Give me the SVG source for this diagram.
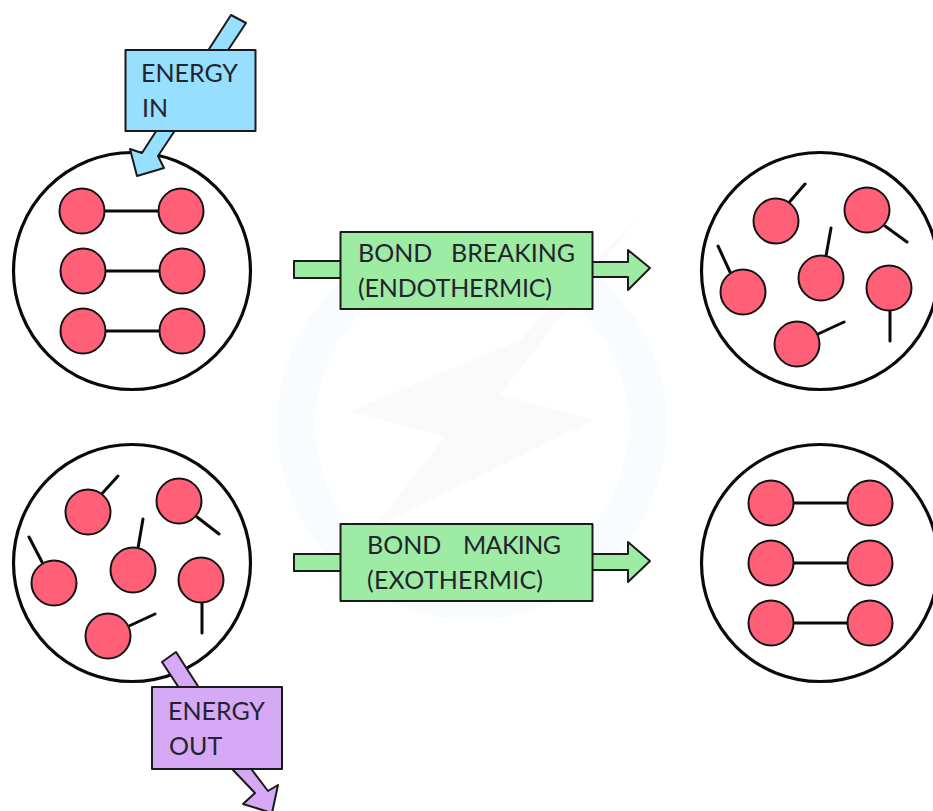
<svg xmlns="http://www.w3.org/2000/svg" width="933" height="811" viewBox="0 0 933 811">
<style>
.o{fill:#fff;stroke:#0a0a0a;stroke-width:3.2}
.a{fill:#ff6078;stroke:#151515;stroke-width:2}
.b{stroke:#0a0a0a;stroke-width:3;fill:none;stroke-linecap:round}
.k{stroke:#1a1a1a;stroke-width:2;stroke-linejoin:round}
.blue{fill:#97dffe}.green{fill:#9eeca4}.purple{fill:#d5a9f6}
text{font-family:"Lato","Noto Sans",sans-serif;font-size:25px;fill:#24242f}
</style>
<defs>
<g id="pair"><line class="b" x1="20" y1="0" x2="80" y2="0"/><circle class="a" cx="0" cy="0" r="22.5"/><circle class="a" cx="99" cy="0" r="22.5"/></g>
</defs>
<g id="watermark">
<circle cx="472" cy="425" r="176" fill="none" stroke="#f8fcfe" stroke-width="38"/>
<path d="M350 411 L520 340 L640 215 L500 395 L595 420 L370 530 L300 620 L445 437 Z" fill="#fafafa"/>
</g>
<g id="circle-top-left">
<circle class="o" cx="132" cy="271" r="118.5"/>
<use href="#pair" x="82" y="211"/><use href="#pair" x="83" y="271"/><use href="#pair" x="83" y="331"/>
</g>
<g id="circle-top-right">
<circle class="o" cx="820" cy="271" r="118.5"/>
<path class="b" d="M786 206L805 184M885 226L907 242M826 256L831 228M890 310L890 341M818 334L844 322M730 272L718 246"/>
<circle class="a" cx="776" cy="221" r="22.5"/><circle class="a" cx="867" cy="210" r="22.5"/><circle class="a" cx="821" cy="278" r="22.5"/><circle class="a" cx="889" cy="288" r="22.5"/><circle class="a" cx="797" cy="344" r="22.5"/><circle class="a" cx="743" cy="292" r="22.5"/>
</g>
<g id="circle-bottom-left">
<circle class="o" cx="132" cy="563" r="118.5"/>
<path class="b" d="M98 498L118 476M197 517L219 534M138 548L143 519M202 602L202 633M129 626L155 614M42 562L29 537"/>
<circle class="a" cx="88" cy="512" r="22.5"/><circle class="a" cx="179" cy="501" r="22.5"/><circle class="a" cx="133" cy="570" r="22.5"/><circle class="a" cx="201" cy="580" r="22.5"/><circle class="a" cx="108" cy="636" r="22.5"/><circle class="a" cx="54" cy="583" r="22.5"/>
</g>
<g id="circle-bottom-right">
<circle class="o" cx="820" cy="563" r="118.5"/>
<use href="#pair" x="771" y="503"/><use href="#pair" x="771" y="563"/><use href="#pair" x="771" y="623"/>
</g>
<g id="connectors">
<polygon class="k blue" points="231,15 246,23 158,156 164,168 137,176 130,149 142,153"/>
<polygon class="k purple" points="162,662 176,652 252,770 268,791 278,785 272,813 243,804 255,793 233,770"/>
<polygon class="k green" points="294,261 345,261 345,278 294,278"/>
<polygon class="k green" points="588,262 628,262 628,250 650,268 628,290 628,277 588,277"/>
<polygon class="k green" points="294,554 345,554 345,571 294,571"/>
<polygon class="k green" points="588,554 628,554 628,542 650,561 628,582 628,570 588,570"/>
</g>
<g id="energy-in"><rect class="k blue" x="125.500" y="50" width="130" height="81"/><text x="141" y="82">ENERGY</text><text x="142" y="117">IN</text></g>
<g id="energy-out"><rect class="k purple" x="152" y="687" width="130" height="82"/><text x="168" y="720">ENERGY</text><text x="169" y="755">OUT</text></g>
<g id="bond-breaking"><rect class="k green" x="340.500" y="232" width="252" height="77"/><text x="358" y="262">BOND</text><text x="451" y="262">BREAKING</text><text x="358" y="297" textLength="194">(ENDOTHERMIC)</text></g>
<g id="bond-making"><rect class="k green" x="340.500" y="524" width="252" height="77"/><text x="367" y="554">BOND</text><text x="463" y="554" textLength="98">MAKING</text><text x="367" y="589" textLength="176">(EXOTHERMIC)</text></g>
</svg>
